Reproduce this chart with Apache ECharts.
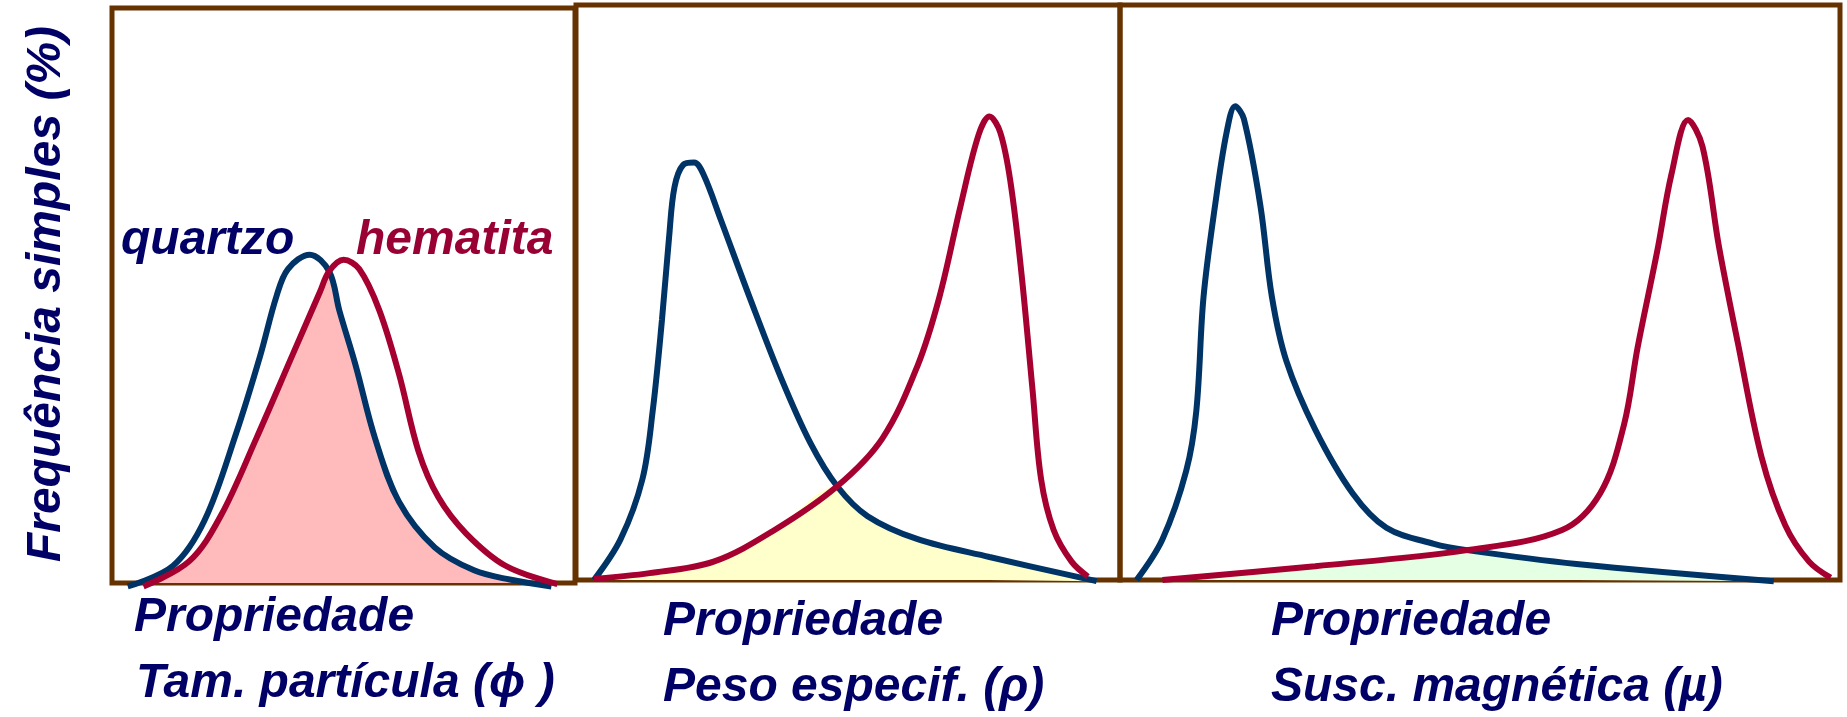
<!DOCTYPE html>
<html>
<head>
<meta charset="utf-8">
<title>Frequência simples</title>
<script src="https://cdn.jsdelivr.net/npm/echarts@6/dist/echarts.min.js"></script>
<style>
  html, body { margin: 0; padding: 0; background: #ffffff; }
  #chart { width: 1847px; height: 717px; }
</style>
</head>
<body>
<div id="chart"></div>
<script>
// Curvas de frequência (propriedade 0–100, frequência 0–100) — [x, y]

// Tamanho de partícula
const quartzoTam = [[3.4,-0.6],[13.2,3.0],[20.0,10.9],[26.8,26.0],[32.0,39.5],[35.5,49.8],[38.0,54.6],[42.7,57.1],[46.9,54.2],[49.1,47.4],[52.6,37.9],[56.8,25.2],[62.0,14.1],[69.7,6.2],[78.2,2.2],[85.9,0.6],[94.9,-0.6]];
const hematitaTam = [[6.8,-0.6],[16.7,3.8],[23.5,11.7],[31.2,25.2],[38.9,39.5],[44.9,50.6],[46.9,54.2],[50.0,56.2],[53.4,54.6],[57.7,47.5],[62.0,36.3],[66.2,22.9],[70.5,14.9],[76.5,8.6],[85.0,3.0],[96.2,-0.2]];
const cruzTam = 46.9;

// Peso específico
const quartzoPeso = [[3.3,0.0],[8.2,7.1],[12.2,17.5],[14.1,29.4],[15.8,45.2],[17.1,59.5],[18.1,68.3],[19.7,72.2],[21.7,72.6],[23.4,70.6],[26.6,62.7],[31.9,49.2],[37.8,34.9],[43.1,23.8],[48.0,16.3],[53.6,11.1],[62.8,7.1],[76.0,4.0],[95.7,-0.2]];
const hematitaPeso = [[3.3,0.2],[13.5,1.2],[25.3,3.2],[36.5,8.7],[48.0,16.3],[56.3,24.6],[62.8,37.3],[66.8,49.2],[70.7,65.1],[74.0,77.4],[76.0,80.6],[78.0,77.8],[79.9,69.0],[81.9,53.2],[83.9,33.3],[85.5,17.5],[87.8,8.7],[91.1,3.2],[94.1,0.6]];
const cruzPeso = 48.0;

// Susceptibilidade magnética
const quartzoSusc = [[2.3,0.0],[5.9,7.1],[9.2,19.0],[10.6,29.4],[11.6,49.2],[13.2,65.1],[14.8,77.8],[16.0,82.4],[17.2,80.2],[19.5,65.1],[21.1,49.2],[23.1,38.1],[27.1,26.2],[32.3,15.1],[37.0,9.1],[43.6,6.3],[48.2,5.2],[63.4,2.8],[90.8,-0.2]];
const hematitaSusc = [[5.9,0.0],[27.1,2.4],[48.2,5.2],[61.4,8.7],[66.7,15.1],[70.0,27.0],[71.9,40.5],[74.6,57.1],[76.6,70.6],[78.9,80.0],[80.9,75.4],[83.2,57.9],[85.8,41.3],[89.1,21.4],[92.4,9.5],[95.7,3.2],[98.7,0.4]];
const cruzSusc = 48.2;

// Rótulos
const tituloY = 'Frequência simples (%)';
const nomes = ['quartzo', 'hematita'];
const rotuloLinha1 = 'Propriedade';
const propriedades = ['Tam. partícula (\u03D5 )', 'Peso especif. (\u03C1)', 'Susc. magnética (\u00B5)'];

const corQuartzo = '#003366';
const corHematita = '#a50030';
const corTexto = '#000066';
const corMoldura = '#663300';
const coresSobreposicao = ['#ffbbbb', '#ffffcc', '#e4ffe4'];

// região comum: hematita até o cruzamento, quartzo depois dele
function sobreposicao(hem, qua, cx) {
  return hem.filter(p => p[0] <= cx).concat(qua.filter(p => p[0] > cx));
}

const paineis = [
  { q: quartzoTam, h: hematitaTam, cx: cruzTam },
  { q: quartzoPeso, h: hematitaPeso, cx: cruzPeso },
  { q: quartzoSusc, h: hematitaSusc, cx: cruzSusc }
];

const grades = [
  { left: 112, top: 8, width: 463, height: 575 },
  { left: 576, top: 5, width: 544, height: 575 },
  { left: 1120, top: 5, width: 720, height: 575 }
].map(g => Object.assign(g, { show: true, borderColor: corMoldura, borderWidth: 5, backgroundColor: 'transparent' }));

const eixoX = grades.map((g, i) => ({ type: 'value', gridIndex: i, min: 0, max: 100, show: false }));
const eixoY = grades.map((g, i) => ({ type: 'value', gridIndex: i, min: 0, max: 100, show: false }));

const series = [];
paineis.forEach((p, i) => {
  series.push({
    type: 'line', xAxisIndex: i, yAxisIndex: i, smooth: 0.35, symbol: 'none', clip: false,
    data: sobreposicao(p.h, p.q, p.cx),
    lineStyle: { width: 0, opacity: 0 },
    areaStyle: { color: coresSobreposicao[i], opacity: 1, origin: 0 },
    z: 1, silent: true
  });
  series.push({
    name: nomes[0], type: 'line', xAxisIndex: i, yAxisIndex: i, smooth: 0.35, symbol: 'none', clip: false,
    data: p.q, lineStyle: { color: corQuartzo, width: 6 }, z: 3, silent: true
  });
  series.push({
    name: nomes[1], type: 'line', xAxisIndex: i, yAxisIndex: i, smooth: 0.35, symbol: 'none', clip: false,
    data: p.h, lineStyle: { color: corHematita, width: 6 }, z: 4, silent: true
  });
});

const fonte = 'italic bold 48px "Liberation Sans", Arial, sans-serif';
const sombra = { shadowColor: 'rgba(0,0,0,0.35)', shadowBlur: 3, shadowOffsetX: 2, shadowOffsetY: 2 };
function texto(t, x, y, cor, extra) {
  return Object.assign({
    type: 'text', x: x, y: y, z: 10,
    style: Object.assign({ text: t, font: fonte, fill: cor, align: 'left', verticalAlign: 'middle' }, sombra)
  }, extra || {});
}

const graficos = [
  texto(tituloY, 47, 294, corTexto, { rotation: Math.PI / 2, style: Object.assign({ text: tituloY, font: fonte, fill: corTexto, align: 'center', verticalAlign: 'middle' }, sombra) }),
  texto(nomes[0], 121, 241, corTexto),
  texto(nomes[1], 356, 241, '#990033'),
  texto(rotuloLinha1, 134, 618, corTexto),
  texto(propriedades[0], 136, 684, corTexto),
  texto(rotuloLinha1, 663, 622, corTexto),
  texto(propriedades[1], 663, 688, corTexto),
  texto(rotuloLinha1, 1271, 622, corTexto),
  texto(propriedades[2], 1271, 688, corTexto)
];

const chart = echarts.init(document.getElementById('chart'), null, { renderer: 'canvas' });
chart.setOption({
  animation: false,
  backgroundColor: '#ffffff',
  grid: grades,
  xAxis: eixoX,
  yAxis: eixoY,
  series: series,
  graphic: graficos
});
</script>
</body>
</html>
